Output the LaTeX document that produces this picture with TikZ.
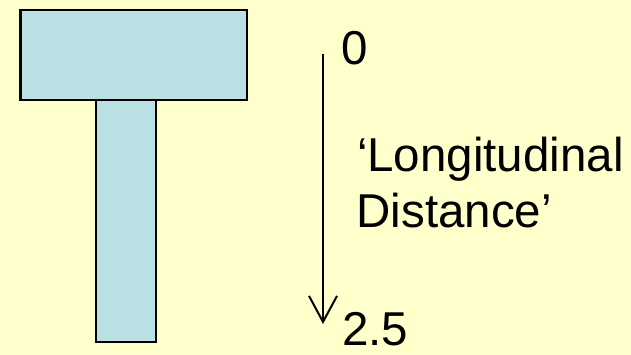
\documentclass[tikz,border=0pt]{standalone}
\usepackage{fontspec}
\setmainfont{Liberation Sans}
\usetikzlibrary{arrows.meta}
\definecolor{bgyellow}{HTML}{FFFFCC}
\definecolor{partblue}{HTML}{BBE0E3}
\tikzset{
  part/.style={draw=black, line width=2.6pt, fill=partblue, inner sep=0pt, outer sep=0pt},
  lbl/.style={anchor=base west, inner sep=0pt, outer sep=0pt, font=\fontsize{47.5}{56}\selectfont},
  axis/.style={line width=2pt, -{Straight Barb[length=26pt, width=28pt, line width=2pt]}}
}
\begin{document}
\begin{tikzpicture}[x=1pt,y=-1pt]
\fill[bgyellow] (0,0) rectangle (631,355);
\useasboundingbox (0,0) rectangle (631,355);
\node[part, minimum width=60pt, minimum height=242pt] (stem) at (126,221) {};
\node[part, minimum width=226.5pt, minimum height=90pt] (head) at (133.75,55) {};
\coordinate (atop) at (323,54);
\coordinate (abot) at (323,324);
\draw[axis] (atop) -- (abot);
\node[lbl] (zero) at (341.5,65) {0};
\node[lbl] (long) at (357,172) {‘Longitudinal};
\node[lbl] (dist) at (356.5,227) {Distance’};
\node[lbl] (end) at (342,345) {2.5};
\end{tikzpicture}
\end{document}
